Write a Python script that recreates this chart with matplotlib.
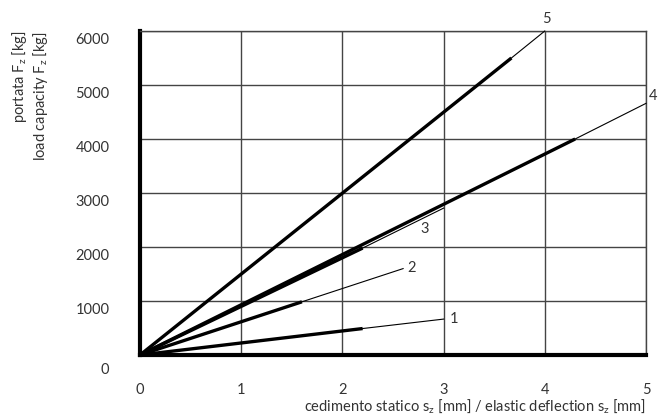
import numpy as np
import matplotlib.pyplot as plt
from matplotlib.transforms import ScaledTranslation

# curve data: thick part up to rated load, thin extension beyond
curve_names = ['1', '2', '3', '4', '5']
thick_x = [2.2, 1.6, 2.2, 4.3, 3.67]
thick_y = [490, 985, 1980, 4000, 5500]
thin_x = [3.0, 2.6, 3.0, 5.0, 4.0]
thin_y = [665, 1600, 2720, 4660, 6000]
label_x = [3.1, 2.68, 2.81, 5.07, 4.02]
label_y = [670, 1617, 2342, 4795, 6227]

x_ticks = [0, 1, 2, 3, 4, 5]
y_ticks = [0, 1000, 2000, 3000, 4000, 5000, 6000]

plt.rcParams['font.family'] = ['Lato', 'DejaVu Sans']
txt = '#333333'

fig = plt.figure(figsize=(6.6, 4.18), dpi=100)
ax = fig.add_axes([140/660, 1 - 355/418, 506/660, 324/418])

for i in range(len(curve_names)):
    ax.plot([0, thick_x[i]], [0, thick_y[i]], color='black', lw=2.4,
            solid_capstyle='butt', clip_on=False, zorder=3)
    ax.plot([thick_x[i], thin_x[i]], [thick_y[i], thin_y[i]], color='black',
            lw=0.8, clip_on=False, zorder=3)
    ax.text(label_x[i], label_y[i], curve_names[i], fontsize=10.5, color=txt,
            ha='center', va='center')

ax.set_xlim(0, 5)
ax.set_ylim(0, 6000)
ax.set_xticks(x_ticks)
ax.set_yticks(y_ticks)
ax.grid(True, color='#444444', lw=1.0)
ax.set_axisbelow(True)
ax.tick_params(length=0, labelsize=10.5, labelcolor=txt)
ax.tick_params(axis='y', pad=22)
ax.tick_params(axis='x', pad=20)

for s in ['top', 'right']:
    ax.spines[s].set_color('#444444')
    ax.spines[s].set_linewidth(1.0)
for s in ['left', 'bottom']:
    ax.spines[s].set_color('black')
    ax.spines[s].set_linewidth(3.0)

# tick labels sit a little below their grid lines
for lab in ax.get_yticklabels():
    dy = -13 if lab.get_text() == '0' else -7
    lab.set_transform(lab.get_transform() + ScaledTranslation(0, dy/100, fig.dpi_scale_trans))

fig.text(646/660, 1 - 407/418,
         'cedimento statico s$_\\mathregular{z}$ [mm] / elastic deflection s$_\\mathregular{z}$ [mm]',
         ha='right', va='center', fontsize=10.5, color=txt)
fig.text(20/660, 1 - 31/418, 'portata F$_\\mathregular{z}$ [kg]', rotation=90,
         ha='center', va='top', fontsize=10.5, color=txt)
fig.text(40/660, 1 - 31/418, 'load capacity F$_\\mathregular{z}$ [kg]', rotation=90,
         ha='center', va='top', fontsize=10.5, color=txt)

fig.savefig('out.png', dpi=100)
